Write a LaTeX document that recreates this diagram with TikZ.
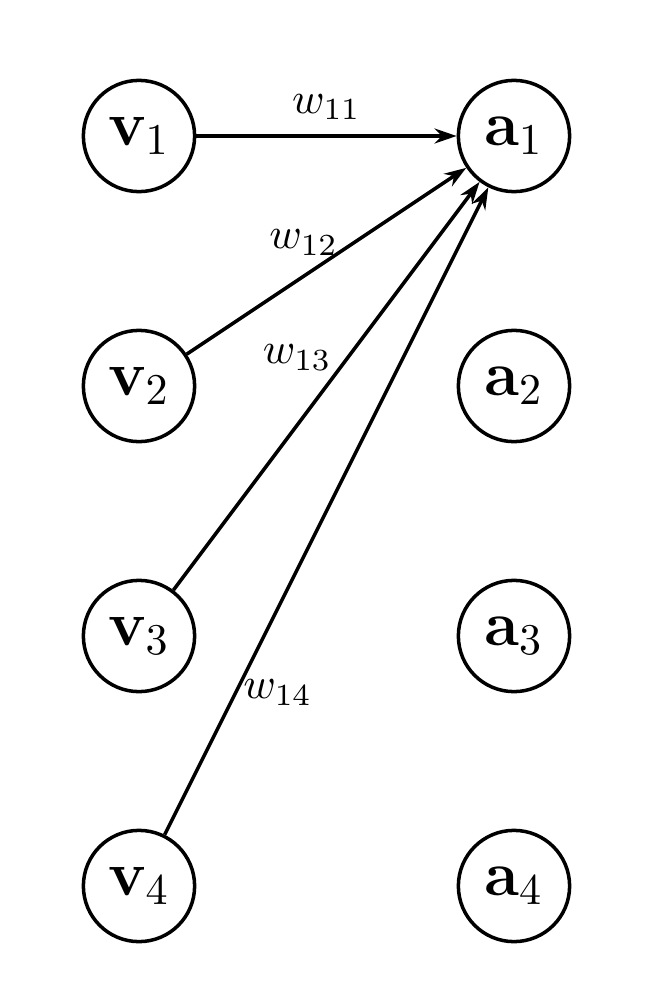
\documentclass[tikz,border=0pt]{standalone}
\usepackage{amsmath,amssymb}
\usetikzlibrary{arrows.meta,positioning}
\tikzset{>={Stealth[length=5pt,width=3.4pt]},unit/.style={circle,draw,thick,
 minimum size=8.9mm,inner sep=0pt,font=\Large},link/.style={->,thick}}

\begin{document}
\begin{tikzpicture}[x=10mm,y=10mm]
\useasboundingbox (-1.112,1.088) rectangle (4.096,-6.944);
\foreach \i in {1,...,4}
 {\node[unit] (v\i) at (0,2-2*\i) {$\mathbf{v}_\i$};
  \node[unit] (a\i) at (3,2-2*\i) {$\mathbf{a}_\i$};}
\foreach \i/\p/\side/\dx in {1/.5/above/0,2/.6/left/0,3/.57/left/0,4/.22/right/-2}
 {\draw[link] (v\i) -- node[\side,pos=\p,xshift=\dx pt] {$w_{1\i}$} (a1);}
\end{tikzpicture}
\end{document}
